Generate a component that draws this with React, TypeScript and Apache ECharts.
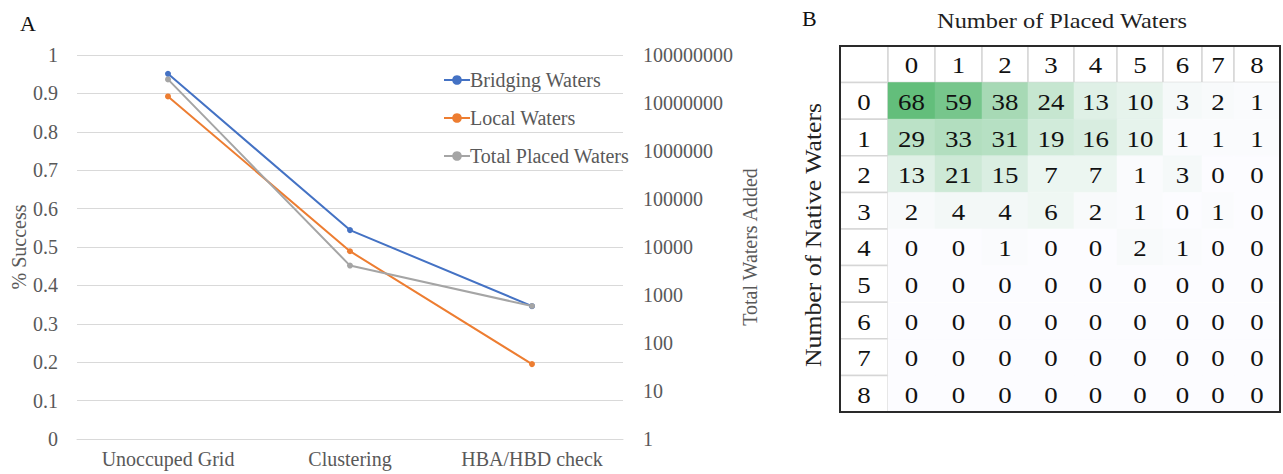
import React, { useEffect, useRef } from "react";
import * as echarts from "echarts";

// ---------- Panel A data ----------
const stages = ["Unoccuped Grid", "Clustering", "HBA/HBD check"];
const bridgingWaters = [0.951, 0.544, 0.346];
const localWaters = [0.892, 0.489, 0.195];
const totalPlacedWaters = [31000000, 4100, 590];

// ---------- Panel B data ----------
const placedWaters = ["0", "1", "2", "3", "4", "5", "6", "7", "8"];
const nativeWaters = ["0", "1", "2", "3", "4", "5", "6", "7", "8"];
const native0 = [68, 59, 38, 24, 13, 10, 3, 2, 1];
const native1 = [29, 33, 31, 19, 16, 10, 1, 1, 1];
const native2 = [13, 21, 15, 7, 7, 1, 3, 0, 0];
const native3 = [2, 4, 4, 6, 2, 1, 0, 1, 0];
const native4 = [0, 0, 1, 0, 0, 2, 1, 0, 0];
const native5 = [0, 0, 0, 0, 0, 0, 0, 0, 0];
const native6 = [0, 0, 0, 0, 0, 0, 0, 0, 0];
const native7 = [0, 0, 0, 0, 0, 0, 0, 0, 0];
const native8 = [0, 0, 0, 0, 0, 0, 0, 0, 0];
const counts = [native0, native1, native2, native3, native4, native5, native6, native7, native8];

// ---------- layout (not data) ----------
const SERIF = "'Liberation Serif', 'Times New Roman', serif";
const GREY_TEXT = "#595959";
const tableFont = `24px ${SERIF}`;
const tableColWidths = [47, 47, 46, 46, 43, 46, 39, 32, 46];
const labelColWidth = 48;
const colStarts: number[] = [];
tableColWidths.reduce((acc, w, i) => {
  colStarts[i] = acc;
  return acc + w;
}, 0);
const tableTotalWidth = labelColWidth + tableColWidths.reduce((a, b) => a + b, 0);

export default function App() {
  const ref = useRef<HTMLDivElement>(null);

  useEffect(() => {
    if (!ref.current) return;
    const chart = echarts.init(ref.current, undefined, { renderer: "svg" });

    const cellData: number[][] = [];
    counts.forEach((row, r) => row.forEach((v, c) => cellData.push([c, r, v])));

    const cellText = (x: number, y: number, text: string) => ({
      type: "text",
      x,
      y: y + 1,
      scaleX: 1.12,
      style: {
        text,
        fill: "#111",
        font: tableFont,
        fontSize: 24,
        fontFamily: SERIF,
        align: "center",
        verticalAlign: "middle",
      },
    });

    const option: any = {
      animation: false,
      backgroundColor: "#fff",
      textStyle: { fontFamily: SERIF },
      grid: [
        { left: 77, right: 660, top: 55, bottom: 35 },
        { left: 840, width: tableTotalWidth, top: 46, bottom: 62 },
      ],
      legend: {
        orient: "vertical",
        left: 438,
        top: 65,
        itemWidth: 26,
        itemHeight: 12,
        itemGap: 18,
        data: ["Bridging Waters", "Local Waters", "Total Placed Waters"],
        textStyle: { fontSize: 20, color: GREY_TEXT, fontFamily: SERIF, padding: [0, 0, 0, -5] },
      },
      xAxis: [
        {
          type: "category",
          gridIndex: 0,
          data: stages,
          boundaryGap: true,
          axisTick: { show: false },
          axisLine: { lineStyle: { color: "#D9D9D9" } },
          axisLabel: { fontSize: 20, color: GREY_TEXT, fontFamily: SERIF, margin: 10, interval: 0 },
        },
        {
          type: "value",
          gridIndex: 1,
          min: 0,
          max: tableTotalWidth,
          show: false,
        },
      ],
      yAxis: [
        {
          type: "value",
          gridIndex: 0,
          min: 0,
          max: 1,
          interval: 0.1,
          name: "% Success",
          nameLocation: "middle",
          nameGap: 48,
          nameTextStyle: { fontSize: 20, color: GREY_TEXT, fontFamily: SERIF },
          axisLine: { show: false },
          axisTick: { show: false },
          axisLabel: {
            fontSize: 20,
            color: GREY_TEXT,
            fontFamily: SERIF,
            margin: 19,
            formatter: (v: number) => String(Number(v.toFixed(1))),
          },
          splitLine: { lineStyle: { color: "#D9D9D9" } },
        },
        {
          type: "log",
          gridIndex: 0,
          logBase: 10,
          min: 1,
          max: 100000000,
          interval: 1,
          position: "right",
          name: "Total Waters Added",
          nameLocation: "middle",
          nameGap: 117,
          nameTextStyle: { fontSize: 20, color: GREY_TEXT, fontFamily: SERIF },
          axisLine: { show: false },
          axisTick: { show: false },
          splitLine: { show: false },
          axisLabel: {
            fontSize: 20,
            color: GREY_TEXT,
            fontFamily: SERIF,
            margin: 20,
            formatter: (v: number) => String(Math.round(v)),
          },
        },
        {
          type: "value",
          gridIndex: 1,
          min: 0,
          max: 10,
          inverse: true,
          show: false,
        },
      ],
      visualMap: {
        show: false,
        seriesIndex: 5,
        dimension: 2,
        min: 0,
        max: 68,
        inRange: { color: ["#FCFCFF", "#63BE7B"] },
      },
      series: [
        {
          name: "Bridging Waters",
          type: "line",
          xAxisIndex: 0,
          yAxisIndex: 0,
          data: bridgingWaters,
          symbol: "circle",
          symbolSize: 6,
          color: "#4472C4",
          lineStyle: { width: 2, color: "#4472C4" },
          itemStyle: { color: "#4472C4" },
        },
        {
          name: "Local Waters",
          type: "line",
          xAxisIndex: 0,
          yAxisIndex: 0,
          data: localWaters,
          symbol: "circle",
          symbolSize: 6,
          color: "#ED7D31",
          lineStyle: { width: 2, color: "#ED7D31" },
          itemStyle: { color: "#ED7D31" },
        },
        {
          name: "Total Placed Waters",
          type: "line",
          xAxisIndex: 0,
          yAxisIndex: 1,
          data: totalPlacedWaters,
          symbol: "circle",
          symbolSize: 6,
          color: "#A5A5A5",
          lineStyle: { width: 2, color: "#A5A5A5" },
          itemStyle: { color: "#A5A5A5" },
        },
        {
          // header row (Number of Placed Waters) + corner cell
          name: "placedHeader",
          type: "custom",
          xAxisIndex: 1,
          yAxisIndex: 2,
          silent: true,
          data: [-1, ...placedWaters.map((_, i) => i)],
          encode: { x: 0 },
          renderItem: (params: any, api: any) => {
            const c = params.dataIndex - 1;
            const left = c < 0 ? 0 : labelColWidth + colStarts[c];
            const w = c < 0 ? labelColWidth : tableColWidths[c];
            const p0 = api.coord([left, 0]);
            const p1 = api.coord([left + w, 1]);
            const children: any[] = [
              {
                type: "rect",
                shape: { x: p0[0], y: p0[1], width: p1[0] - p0[0], height: p1[1] - p0[1] },
                style: { fill: "#fff", stroke: "#D6D6D6", lineWidth: 1.5 },
              },
            ];
            if (c >= 0) {
              children.push(cellText((p0[0] + p1[0]) / 2, (p0[1] + p1[1]) / 2, placedWaters[c]));
            }
            return { type: "group", children };
          },
        },
        {
          // label column (Number of Native Waters)
          name: "nativeLabels",
          type: "custom",
          xAxisIndex: 1,
          yAxisIndex: 2,
          silent: true,
          data: nativeWaters.map((_, i) => i),
          encode: { y: 0 },
          renderItem: (params: any, api: any) => {
            const r = params.dataIndex;
            const p0 = api.coord([0, r + 1]);
            const p1 = api.coord([labelColWidth, r + 2]);
            return {
              type: "group",
              children: [
                {
                  type: "rect",
                  shape: { x: p0[0], y: p0[1], width: p1[0] - p0[0], height: p1[1] - p0[1] },
                  style: { fill: "#fff", stroke: "#D6D6D6", lineWidth: 1.5 },
                },
                cellText((p0[0] + p1[0]) / 2, (p0[1] + p1[1]) / 2, nativeWaters[r]),
              ],
            };
          },
        },
        {
          name: "counts",
          type: "custom",
          xAxisIndex: 1,
          yAxisIndex: 2,
          silent: true,
          data: cellData,
          encode: { x: 0, y: 1 },
          renderItem: (params: any, api: any) => {
            const c = api.value(0) as number;
            const r = api.value(1) as number;
            const left = labelColWidth + colStarts[c];
            const p0 = api.coord([left, r + 1]);
            const p1 = api.coord([left + tableColWidths[c], r + 2]);
            const color = api.visual("color");
            return {
              type: "group",
              children: [
                {
                  type: "rect",
                  shape: { x: p0[0], y: p0[1], width: p1[0] - p0[0], height: p1[1] - p0[1] },
                  style: { fill: color, stroke: color, lineWidth: 0.5 },
                },
                cellText((p0[0] + p1[0]) / 2, (p0[1] + p1[1]) / 2, String(api.value(2))),
              ],
            };
          },
        },
      ],
      graphic: [
        {
          type: "text",
          left: 20,
          top: 12,
          style: { text: "A", font: `22px ${SERIF}`, fill: "#111" },
        },
        {
          type: "text",
          left: 802,
          top: 7,
          style: { text: "B", font: `22px ${SERIF}`, fill: "#111" },
        },
        {
          type: "text",
          x: 1062,
          y: 21,
          scaleX: 1.16,
          style: {
            text: "Number of Placed Waters",
            font: `21px ${SERIF}`,
            fill: "#222",
            align: "center",
            verticalAlign: "middle",
          },
        },
        {
          type: "text",
          x: 813,
          y: 235,
          rotation: Math.PI / 2,
          scaleX: 1.12,
          style: {
            text: "Number of Native Waters",
            font: `23px ${SERIF}`,
            fill: "#222",
            align: "center",
            verticalAlign: "middle",
          },
        },
        {
          type: "rect",
          z: 100,
          shape: { x: 840, y: 46, width: tableTotalWidth, height: 366 },
          style: { fill: "none", stroke: "#2A2A2A", lineWidth: 2 },
        },
      ],
    };

    chart.setOption(option);
    return () => chart.dispose();
  }, []);

  return (
    <div
      ref={ref}
      style={{ position: "fixed", left: 0, top: 0, width: 1283, height: 474, background: "#fff" }}
    />
  );
}
